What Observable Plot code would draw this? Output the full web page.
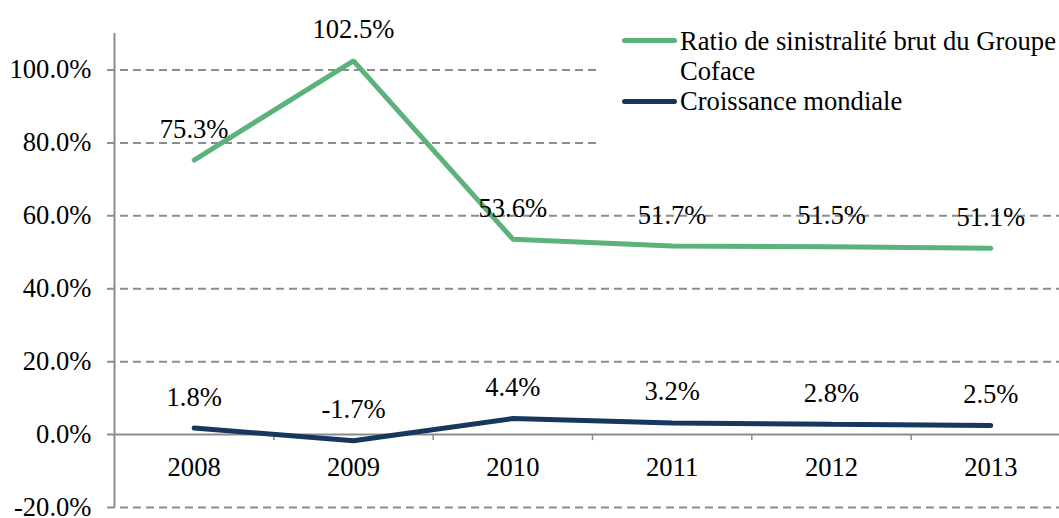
<!DOCTYPE html>
<html>
<head>
<meta charset="utf-8">
<script src="https://cdn.jsdelivr.net/npm/d3@7"></script>
<script src="https://cdn.jsdelivr.net/npm/@observablehq/plot@0.6"></script>
<style>
  html, body { margin: 0; padding: 0; background: #fff; overflow: hidden; }
  #wrap { position: relative; width: 1059px; height: 518px; font-family: 'Liberation Serif'; }
  #legend { position: absolute; left: 597px; top: 22px; width: 462px; height: 128px; background: #fff; font-size: 26.6px; color: #000; font-family: 'Liberation Serif'; }
  .item { position: absolute; left: 83px; line-height: 30px; white-space: nowrap; font-family: 'Liberation Serif'; }
  .sw { position: absolute; left: 25px; width: 55px; height: 5px; border-radius: 3px; }
</style>
</head>
<body>
<div id="wrap"></div>
<script>
const years = [2008, 2009, 2010, 2011, 2012, 2013];
const ratioCoface = [75.3, 102.5, 53.6, 51.7, 51.5, 51.1];
const croissance = [1.8, -1.7, 4.4, 3.2, 2.8, 2.5];
const yTicks = [-20, 0, 20, 40, 60, 80, 100];
const seriesNames = ["Ratio de sinistralité brut du Groupe Coface", "Croissance mondiale"];
const colors = ["#5cb27b", "#17375e"];
const FONT = "Liberation Serif";
const FS = 26.6;

const green = years.map((y, i) => ({year: y, value: ratioCoface[i]}));
const navy = years.map((y, i) => ({year: y, value: croissance[i]}));
const boundaries = [years[0] - 0.5, ...years.map(y => y + 0.5)];
const fmt = v => v.toFixed(1) + "%";

const chart = Plot.plot({
  width: 1059,
  height: 518,
  marginLeft: 114,
  marginRight: 0,
  marginTop: 33,
  marginBottom: 11,
  style: {fontFamily: FONT, fontSize: FS + "px", color: "#000", background: "transparent", overflow: "visible"},
  x: {type: "linear", domain: [years[0] - 0.5, years[years.length - 1] + 0.5], range: [114, 1070], axis: null},
  y: {domain: [-20, 110], axis: null},
  marks: [
    Plot.ruleY(yTicks.filter(t => t !== 0), {stroke: "#8c8c8c", strokeWidth: 2, strokeDasharray: "8,5", insetLeft: -7}),
    Plot.ruleY([0], {stroke: "#8c8c8c", strokeWidth: 2, insetLeft: -7}),
    Plot.ruleX([boundaries[0]], {y1: -20, y2: 110, stroke: "#8c8c8c", strokeWidth: 2}),
    Plot.ruleX(boundaries.slice(1), {x: d => d, y1: 0, y2: 0, insetBottom: -6, stroke: "#8c8c8c", strokeWidth: 1.5}),
    Plot.axisY({ticks: yTicks, tickFormat: fmt, tickSize: 0, tickPadding: 23, fontSize: FS, fontFamily: FONT, fill: "#000", label: null}),
    Plot.text(years, {x: d => d, y: 0, text: d => String(d), dy: 33, fontSize: FS, fontFamily: FONT, fill: "#000"}),
    Plot.line(green, {x: "year", y: "value", stroke: colors[0], strokeWidth: 5, strokeLinejoin: "miter", strokeLinecap: "round"}),
    Plot.line(navy, {x: "year", y: "value", stroke: colors[1], strokeWidth: 5, strokeLinejoin: "miter", strokeLinecap: "round"}),
    Plot.text(green, {x: "year", y: "value", text: d => fmt(d.value), dy: -31, fontSize: FS, fontFamily: FONT, fill: "#000"}),
    Plot.text(navy, {x: "year", y: "value", text: d => fmt(d.value), dy: -31, fontSize: FS, fontFamily: FONT, fill: "#000"})
  ]
});

const wrap = document.getElementById("wrap");
wrap.appendChild(chart);

const legend = document.createElement("div");
legend.id = "legend";
const words = seriesNames[0].split(" ");
legend.innerHTML =
  `<div class="sw" style="top:16px;background:${colors[0]}"></div>` +
  `<div class="item" style="top:4px">${words.slice(0, -1).join(" ")}<br>${words[words.length - 1]}</div>` +
  `<div class="sw" style="top:77px;background:${colors[1]}"></div>` +
  `<div class="item" style="top:64px">${seriesNames[1]}</div>`;
wrap.appendChild(legend);
</script>
</body>
</html>
